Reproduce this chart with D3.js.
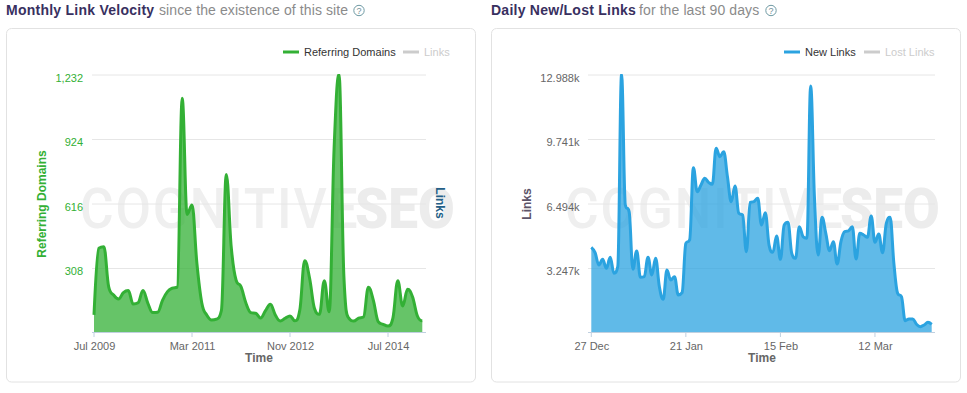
<!DOCTYPE html>
<html><head><meta charset="utf-8">
<script src="https://cdn.jsdelivr.net/npm/d3@7"></script>
<style>
html,body{margin:0;padding:0;background:#fff}
svg{display:block}
text{font-family:"Liberation Sans",Arial,sans-serif}
</style></head><body>
<svg id="c" width="967" height="393"></svg>
<script>
const domainsTitle = "Monthly Link Velocity";
const domainsSubtitle = "since the existence of this site";
const linksTitle = "Daily New/Lost Links";
const linksSubtitle = "for the last 90 days";

const referringDomains = [84,403,410,218,179,160,190,200,136,142,200,139,95,97,155,195,212,217,1118,564,609,330,141,84,60,64,105,755,410,250,219,141,95,92,69,104,135,84,55,68,79,56,107,343,259,115,87,247,99,880,1232,267,69,55,69,74,216,155,52,39,31,69,247,127,206,171,79,56];
const domainTickValues = [308,616,924,1232];
const domainMonthTicks = [0,20,40,60];
const domainMonthLabels = ["Jul 2009","Mar 2011","Nov 2012","Jul 2014"];

const newLinks = [4288,4019,3398,3683,3230,3784,2986,3314,12988,6418,6081,3180,4103,2777,2811,3784,2895,3734,2307,1670,3146,2643,2811,1888,2005,4490,4657,8298,7090,7425,7760,7560,7460,9272,8850,9100,7843,6585,7375,6000,5915,4068,6554,6585,6755,5412,6033,4400,4036,4858,3683,5412,5546,3986,3734,5328,4824,4741,12407,6800,3901,5797,4993,4120,4573,3448,4573,5076,5110,5328,3700,4993,4908,4790,5865,4540,4958,4019,5496,5797,3482,1973,1804,596,680,680,412,294,378,512,412];
const linkTickValues = [3247,6494,9741,12988];
const linkTickLabels = ["3.247k","6.494k","9.741k","12.988k"];
const dayTicks = [0,25,50,75];
const dayLabels = ["27 Dec","21 Jan","15 Feb","12 Mar"];

const svg = d3.select("#c");
const defs = svg.append("defs");

// Spline with smoothed tangents that never overshoot a local extreme
function splinePath(pts, ctx){
  const s = 1.5, den = s + 1, n = pts.length, cl = [], cr = [];
  pts.forEach((p,i)=>{
    if(i===0||i===n-1){cl[i]=p.slice();cr[i]=p.slice();return;}
    const a=pts[i-1], b=pts[i+1];
    let lx=(s*p[0]+a[0])/den, ly=(s*p[1]+a[1])/den, rx=(s*p[0]+b[0])/den, ry=(s*p[1]+b[1])/den;
    const c=((ry-ly)*(rx-p[0]))/(rx-lx)+p[1]-ry;
    ly+=c; ry+=c;
    if(ly>a[1]&&ly>p[1]){ly=Math.max(a[1],p[1]);ry=2*p[1]-ly;}
    else if(ly<a[1]&&ly<p[1]){ly=Math.min(a[1],p[1]);ry=2*p[1]-ly;}
    if(ry>b[1]&&ry>p[1]){ry=Math.max(b[1],p[1]);ly=2*p[1]-ry;}
    else if(ry<b[1]&&ry<p[1]){ry=Math.min(b[1],p[1]);ly=2*p[1]-ry;}
    cl[i]=[lx,ly]; cr[i]=[rx,ry];
  });
  ctx.moveTo(pts[0][0],pts[0][1]);
  for(let i=1;i<n;i++) ctx.bezierCurveTo(cr[i-1][0],cr[i-1][1],cl[i][0],cl[i][1],pts[i][0],pts[i][1]);
  return ctx;
}

function panel(o){
  const g = svg.append("g");
  // header
  const t = g.append("text").attr("x",o.px).attr("y",15).attr("font-size",14);
  t.append("tspan").attr("font-weight","bold").attr("fill","#38305f").attr("letter-spacing",o.tsp).text(o.title);
  t.append("tspan").attr("x",o.subX).attr("fill","#8b8b8b").attr("letter-spacing",o.ssp).text(o.sub);
  g.append("circle").attr("cx",o.hx).attr("cy",10.5).attr("r",5.2).attr("fill","#fff").attr("stroke","#6f9aa3").attr("stroke-width",1);
  g.append("text").attr("x",o.hx).attr("y",14).attr("text-anchor","middle").attr("font-size",9).attr("fill","#6f8f98").text("?");
  // card
  g.append("rect").attr("x",o.px+.5).attr("y",28.5).attr("width",469).attr("height",353.5).attr("rx",5)
    .attr("fill","#fff").attr("stroke","#e2e2e2").attr("stroke-width",1);

  const x = d3.scaleLinear().domain([0,o.values.length-1]).range([o.x0,o.x1]);
  const y = d3.scaleLinear().domain([0,o.yTicks[3]]).range([332.5,74.5]);

  // watermark
  g.append("text").attr("transform",`translate(${o.px+74},228) scale(.92,1)`).attr("font-size",56).attr("letter-spacing",2)
    .style("font-family","Roboto").attr("font-weight",500).attr("fill","#efefef").text("COGNITIVE");
  g.append("text").attr("transform",`translate(${o.px+349},228) scale(.95,1)`).attr("font-size",56).attr("letter-spacing",0)
    .style("font-family","Roboto").attr("font-weight",900).attr("fill","#ececec").text("SEO");

  // grid + y labels
  const ya = d3.axisLeft(y).tickValues(o.yTicks).tickSize(o.gx1-o.gx0).tickFormat((d,i)=>o.yLabels[i]);
  const yg = g.append("g").attr("transform",`translate(${o.gx1},0)`).call(ya);
  yg.select(".domain").remove();
  yg.selectAll("line").attr("stroke","#e6e6e6");
  yg.selectAll("text").attr("x",-(o.gx1-o.yLabelX)).attr("dy","0.32em").attr("transform","translate(0,3)").attr("text-anchor","end").attr("font-size",11).attr("fill",o.yColor).style("font-family",'"Liberation Sans"');

  // area + line
  const id = "clip"+o.px;
  defs.append("clipPath").attr("id",id).append("rect").attr("x",o.x0-3).attr("y",74).attr("width",o.x1-o.x0+6).attr("height",262);
  const pts = o.values.map((d,i)=>[x(i),y(d)]);
  const pg = g.append("g").attr("clip-path",`url(#${id})`);
  const linePath = splinePath(pts,d3.path());
  const areaPath = splinePath(pts,d3.path());
  areaPath.lineTo(x(o.values.length-1),y(0)); areaPath.lineTo(x(0),y(0)); areaPath.closePath();
  pg.append("path").attr("fill",o.color).attr("fill-opacity",.75).attr("d",areaPath.toString());
  pg.append("path").attr("fill","none").attr("stroke",o.color).attr("stroke-width",3).attr("stroke-linejoin","round").attr("d",linePath.toString());

  // x axis
  const xa = d3.axisBottom(x).tickValues(o.xTicks).tickSize(5).tickPadding(3).tickFormat((d,i)=>o.xLabels[i]);
  const xg = g.append("g").attr("transform","translate(0,332)").call(xa);
  xg.select(".domain").attr("d",`M${o.gx0},0.5H${o.gx1}`).attr("stroke","#c0d0e0");
  xg.selectAll("line").attr("stroke","#c0d0e0").attr("transform","translate(-.5,0)");
  xg.selectAll("text").attr("font-size",11).attr("fill","#666").attr("dy","0.95em").style("font-family",'"Liberation Sans"');

  // axis titles
  g.append("text").attr("x",o.timeX).attr("y",362).attr("text-anchor","middle").attr("font-size",12).attr("font-weight","bold").attr("fill","#666").text("Time");
  g.append("text").attr("transform",`translate(${o.px+40},${o.ytY}) rotate(-90)`).attr("text-anchor","middle").attr("font-size",12).attr("font-weight","bold").attr("fill",o.ytColor).text(o.yTitle);

  // legend
  o.legend.forEach(l=>{
    g.append("line").attr("x1",l.x).attr("x2",l.x+16).attr("y1",52).attr("y2",52).attr("stroke",l.on?o.color:"#ccc").attr("stroke-width",3);
    g.append("text").attr("x",l.x+21).attr("y",56).attr("font-size",11).attr("fill",l.on?"#333":"#ccc").text(l.name);
  });
  return g;
}

const left = panel({px:6,title:domainsTitle,sub:domainsSubtitle,subX:159,tsp:.25,ssp:.1,hx:359,values:referringDomains,color:"#33b035",
  x0:94,x1:422.3,gx0:92,gx1:426,yLabelX:83,yTicks:domainTickValues,yLabels:domainTickValues.map(d3.format(",")),yColor:"#33b035",
  xTicks:domainMonthTicks,xLabels:domainMonthLabels,timeX:259,yTitle:"Referring Domains",ytY:204,ytColor:"#33b035",
  legend:[{x:283,name:"Referring Domains",on:true},{x:403,name:"Links",on:false}]});
left.append("text").attr("transform","translate(436,203) rotate(90)").attr("text-anchor","middle").attr("font-size",12).attr("font-weight","bold").attr("fill","#245f87").text("Links");

panel({px:491,title:linksTitle,sub:linksSubtitle,subX:639,tsp:.25,ssp:.1,hx:771,values:newLinks,color:"#2ba3e0",
  x0:591.3,x1:931.7,gx0:588,gx1:935,yLabelX:579.5,yTicks:linkTickValues,yLabels:linkTickLabels,yColor:"#666",
  xTicks:dayTicks,xLabels:dayLabels,timeX:762,yTitle:"Links",ytY:204,ytColor:"#5d5468",
  legend:[{x:784,name:"New Links",on:true},{x:864,name:"Lost Links",on:false}]});
</script>
</body></html>
